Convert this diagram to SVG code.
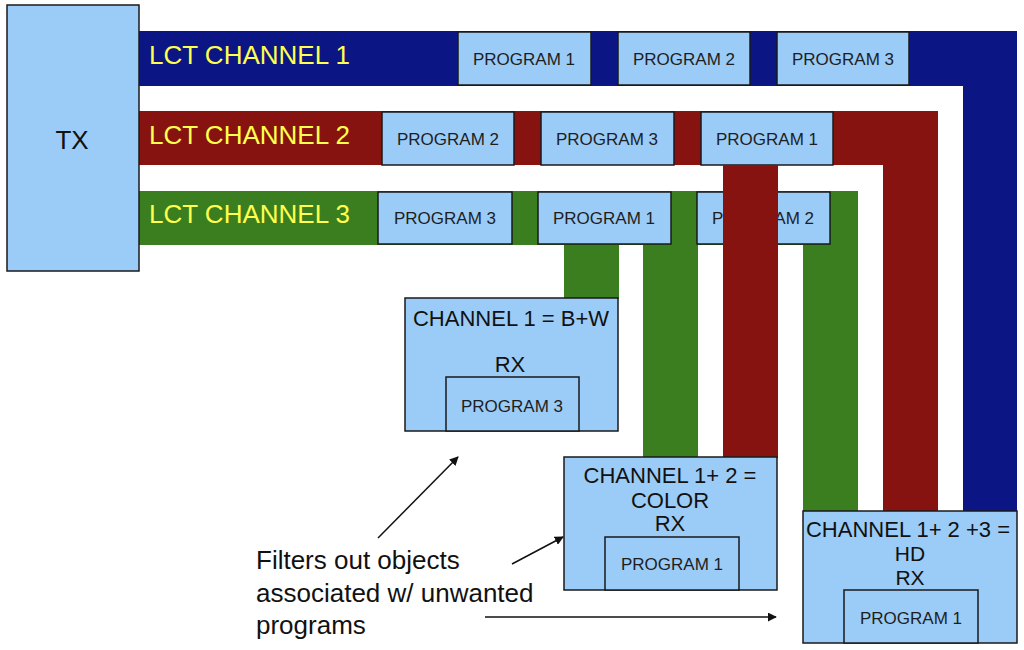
<svg xmlns="http://www.w3.org/2000/svg" width="1024" height="650" viewBox="0 0 1024 650">
<style>
.box{fill:#9BCBF7;stroke:#1a1a1a;stroke-width:1.5}
.blue{fill:#0B1584}
.red{fill:#861310}
.green{fill:#3B7E1F}
.lbl{font-family:"Liberation Sans",Arial,sans-serif;font-size:26px;fill:#FFFF4D}
.prog{font-family:"Liberation Sans",Arial,sans-serif;font-size:17px;fill:#1e1e1e;text-anchor:middle}
.big{font-family:"Liberation Sans",Arial,sans-serif;font-size:22px;fill:#111;text-anchor:middle}
.note{font-family:"Liberation Sans",Arial,sans-serif;font-size:26px;fill:#111}
.arr{stroke:#111;stroke-width:1.5;fill:none;marker-end:url(#ah)}
</style>
<defs>
<marker id="ah" viewBox="0 0 10 10" refX="9" refY="5" markerWidth="9" markerHeight="9" markerUnits="userSpaceOnUse" orient="auto">
<path d="M0,0 L10,5 L0,10 z" fill="#111"/>
</marker>
</defs>
<rect width="1024" height="650" fill="#fff"/>

<g id="channels">
<rect class="blue" x="139" y="31" width="878" height="55"/>
<rect class="blue" x="963" y="31" width="54" height="481"/>
<rect class="red" x="139" y="111" width="799" height="54"/>
<rect class="red" x="883" y="111" width="55" height="401"/>
<rect class="green" x="139" y="191" width="719" height="54"/>
<rect class="green" x="803" y="191" width="55" height="321"/>
<rect class="green" x="564" y="244" width="55" height="55"/>
<rect class="green" x="643" y="244" width="55" height="214"/>
<text class="lbl" x="149" y="64">LCT CHANNEL 1</text>
<text class="lbl" x="149" y="144">LCT CHANNEL 2</text>
<text class="lbl" x="149" y="223">LCT CHANNEL 3</text>
</g>

<g id="tx">
<rect class="box" x="7" y="5" width="132" height="266"/>
<text class="big" x="72" y="149" style="font-size:26px">TX</text>
</g>

<g id="ch1-prog1"><rect class="box" x="458" y="32" width="133" height="53"/><text class="prog" x="524" y="65">PROGRAM 1</text></g>
<g id="ch1-prog2"><rect class="box" x="618" y="32" width="132" height="53"/><text class="prog" x="684" y="65">PROGRAM 2</text></g>
<g id="ch1-prog3"><rect class="box" x="777" y="32" width="132" height="53"/><text class="prog" x="843" y="65">PROGRAM 3</text></g>

<g id="ch2-prog2"><rect class="box" x="382" y="112" width="132" height="53"/><text class="prog" x="448" y="145">PROGRAM 2</text></g>
<g id="ch2-prog3"><rect class="box" x="541" y="112" width="133" height="53"/><text class="prog" x="607" y="145">PROGRAM 3</text></g>
<g id="ch2-prog1"><rect class="box" x="701" y="112" width="132" height="53"/><text class="prog" x="767" y="145">PROGRAM 1</text></g>

<g id="ch3-prog3"><rect class="box" x="378" y="192" width="134" height="52"/><text class="prog" x="445" y="224">PROGRAM 3</text></g>
<g id="ch3-prog1"><rect class="box" x="538" y="192" width="133" height="52"/><text class="prog" x="604" y="224">PROGRAM 1</text></g>
<g id="ch3-prog2"><rect class="box" x="697" y="192" width="133" height="52"/><text class="prog" x="763" y="224">PROGRAM 2</text></g>

<g id="red-drop">
<rect class="red" x="723" y="165" width="55" height="293"/>
</g>

<g id="rx-bw">
<rect class="box" x="405" y="298" width="213" height="133"/>
<text class="big" x="511" y="326">CHANNEL 1 = B+W</text>
<text class="big" x="510" y="372">RX</text>
<rect class="box" x="446" y="377" width="133" height="54"/>
<text class="prog" x="512" y="412">PROGRAM 3</text>
</g>

<g id="rx-color">
<rect class="box" x="564" y="457" width="213" height="133"/>
<text class="big" x="670" y="483">CHANNEL 1+ 2 =</text>
<text class="big" x="670" y="508">COLOR</text>
<text class="big" x="670" y="531">RX</text>
<rect class="box" x="605" y="537" width="134" height="53"/>
<text class="prog" x="672" y="570">PROGRAM 1</text>
</g>

<g id="rx-hd">
<rect class="box" x="803" y="511" width="214" height="132"/>
<text class="big" x="908" y="537">CHANNEL 1+ 2 +3 =</text>
<text class="big" x="910" y="561" style="font-size:21px">HD</text>
<text class="big" x="910" y="585" style="font-size:21px">RX</text>
<rect class="box" x="844" y="590" width="134" height="53"/>
<text class="prog" x="911" y="624">PROGRAM 1</text>
</g>

<g id="note">
<text class="note" x="256" y="569">Filters out objects</text>
<text class="note" x="256" y="602">associated w/ unwanted</text>
<text class="note" x="256" y="634">programs</text>
</g>

<g id="connectors">
<line class="arr" x1="378" y1="538" x2="458" y2="457"/>
<line class="arr" x1="512" y1="564" x2="563" y2="537"/>
<line class="arr" x1="485" y1="617" x2="776" y2="617"/>
</g>
</svg>
